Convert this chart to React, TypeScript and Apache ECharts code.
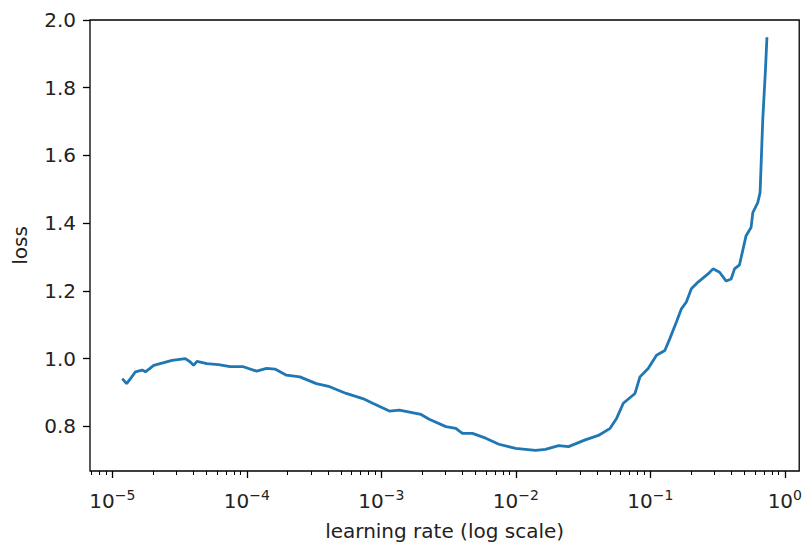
import React, { useEffect, useRef } from "react";
import * as echarts from "echarts";

// log10 of learning rate
const logLr = [
  -4.926, -4.894, -4.865, -4.828, -4.778, -4.754, -4.692, -4.618, -4.556, -4.457,
  -4.42, -4.396, -4.371, -4.297, -4.211, -4.124, -4.026, -3.927, -3.853, -3.791,
  -3.705, -3.606, -3.483, -3.384, -3.261, -3.138, -3.064, -2.94, -2.866, -2.705,
  -2.644, -2.52, -2.446, -2.397, -2.323, -2.224, -2.126, -2.002, -1.854, -1.78,
  -1.682, -1.608, -1.484, -1.386, -1.299, -1.25, -1.201, -1.114, -1.077, -1.016,
  -0.954, -0.892, -0.855, -0.806, -0.769, -0.732, -0.695, -0.645, -0.571, -0.534,
  -0.485, -0.436, -0.399, -0.374, -0.337, -0.288, -0.251, -0.238, -0.201, -0.184,
  -0.164, -0.144, -0.133,
];
const loss = [
  0.941, 0.926, 0.941, 0.961, 0.966, 0.961, 0.98, 0.988, 0.995, 1.0,
  0.99, 0.98, 0.992, 0.985, 0.982, 0.976, 0.976, 0.963, 0.971, 0.969,
  0.951, 0.946, 0.926, 0.917, 0.897, 0.882, 0.868, 0.845, 0.848, 0.835,
  0.821, 0.799, 0.794, 0.779, 0.779, 0.765, 0.747, 0.735, 0.729, 0.732,
  0.743, 0.74, 0.76, 0.773, 0.794, 0.824, 0.868, 0.897, 0.946, 0.971,
  1.01, 1.024, 1.059, 1.108, 1.147, 1.167, 1.206, 1.226, 1.25, 1.265,
  1.255, 1.229, 1.235, 1.265, 1.277, 1.363, 1.387, 1.431, 1.461, 1.49,
  1.706, 1.853, 1.949,
];
const xDecades = [-5, -4, -3, -2, -1, 0];
const yTicks = [0.8, 1.0, 1.2, 1.4, 1.6, 1.8, 2.0];
const minorMultipliers = [2, 3, 4, 5, 6, 7, 8, 9];

const X_MIN = -5.166;
const X_MAX = 0.107;
const Y_MIN = 0.668;
const Y_MAX = 2.0;
const FONT = "DejaVu Sans";
const TEXT = "#222";

export default function App() {
  const ref = useRef<HTMLDivElement>(null);
  useEffect(() => {
    if (!ref.current) return;
    const chart = echarts.init(ref.current, null, { renderer: "svg" });
    const minorTicks: number[] = [];
    for (let d = -6; d <= 0; d++) {
      for (const m of minorMultipliers) {
        const v = Math.log10(m) + d;
        if (v > X_MIN && v < X_MAX) minorTicks.push(v);
      }
    }
    chart.setOption({
      animation: false,
      grid: {
        left: 90,
        top: 20,
        width: 712,
        height: 453,
        show: true,
        borderColor: "#000",
        borderWidth: 1.3,
        backgroundColor: "transparent",
      },
      xAxis: [
        {
          type: "value",
          min: X_MIN,
          max: X_MAX,
          position: "bottom",
          name: "learning rate (log scale)",
          nameLocation: "middle",
          nameGap: 50,
          nameTextStyle: { fontFamily: FONT, fontSize: 20, color: TEXT },
          axisLine: { show: false, onZero: false },
          splitLine: { show: false },
          axisTick: {
            show: true,
            length: 7,
            customValues: xDecades,
            lineStyle: { color: "#000", width: 1.3 },
          },
          axisLabel: {
            customValues: xDecades,
            margin: 17,
            fontFamily: FONT,
            color: TEXT,
            formatter: (v: number) =>
              "{b|10}{s|" + (v < 0 ? "\u2212" + -v : String(v)) + "}",
            rich: {
              b: { fontFamily: FONT, fontSize: 20, color: TEXT, verticalAlign: "bottom" },
              s: {
                fontFamily: FONT,
                fontSize: 14,
                color: TEXT,
                verticalAlign: "bottom",
                padding: [0, 0, 9, 0],
              },
            },
          },
        },
        {
          type: "value",
          min: X_MIN,
          max: X_MAX,
          position: "bottom",
          axisLine: { show: false, onZero: false },
          splitLine: { show: false },
          axisLabel: { show: false },
          axisTick: {
            show: true,
            length: 4,
            customValues: minorTicks,
            lineStyle: { color: "#000", width: 1 },
          },
        },
      ],
      yAxis: {
        type: "value",
        min: Y_MIN,
        max: Y_MAX,
        position: "left",
        name: "loss",
        nameLocation: "middle",
        nameGap: 60,
        nameTextStyle: { fontFamily: FONT, fontSize: 20, color: TEXT },
        axisLine: { show: false, onZero: false },
        splitLine: { show: false },
        axisTick: {
          show: true,
          length: 7,
          customValues: yTicks,
          lineStyle: { color: "#000", width: 1.3 },
        },
        axisLabel: {
          customValues: yTicks,
          margin: 14,
          fontFamily: FONT,
          fontSize: 20,
          color: TEXT,
          formatter: (v: number) => v.toFixed(1),
        },
      },
      series: [
        {
          type: "line",
          xAxisIndex: 0,
          data: logLr.map((x, i) => [x, loss[i]]),
          showSymbol: false,
          lineStyle: { color: "#1f77b4", width: 2.8 },
        },
      ],
    });
    return () => chart.dispose();
  }, []);
  return (
    <div
      ref={ref}
      style={{ position: "fixed", left: 0, top: 0, width: 805, height: 546, background: "#fff" }}
    />
  );
}
